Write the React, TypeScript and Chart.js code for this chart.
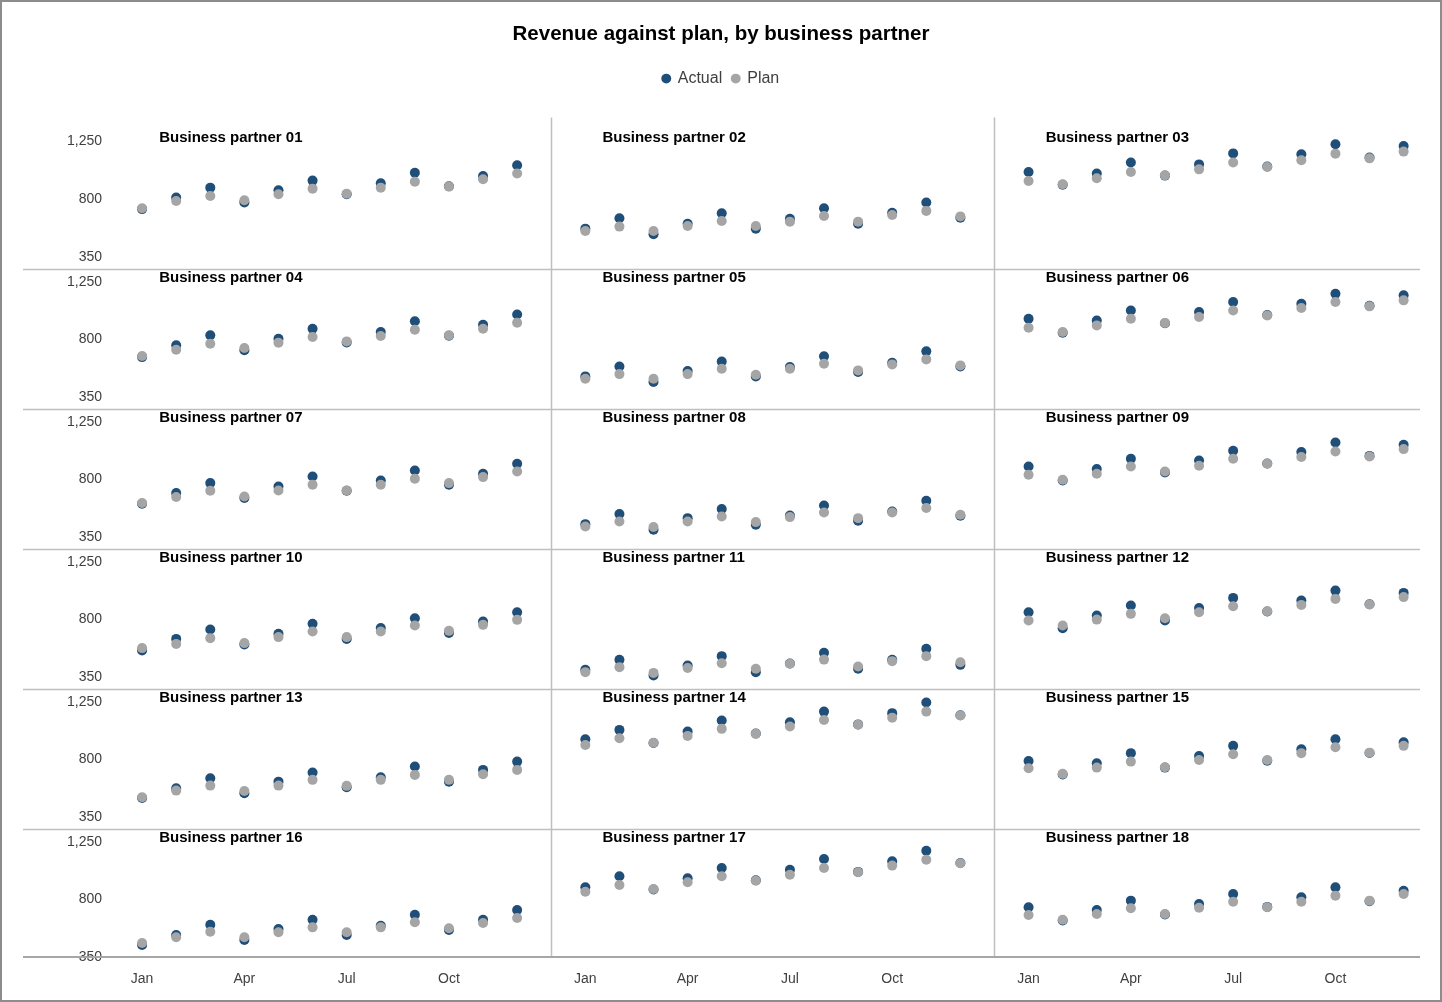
import { useEffect, useRef } from 'react';
import { Chart, registerables } from 'chart.js';

Chart.register(...registerables);

const FONT = '"Liberation Sans", Arial, sans-serif';

const months = ['Jan', 'Feb', 'Mar', 'Apr', 'May', 'Jun', 'Jul', 'Aug', 'Sep', 'Oct', 'Nov', 'Dec'];
const monthTicks = [0, 3, 6, 9];
const valueTicks = [350, 800, 1250];

const partners = [
  'Business partner 01', 'Business partner 02', 'Business partner 03',
  'Business partner 04', 'Business partner 05', 'Business partner 06',
  'Business partner 07', 'Business partner 08', 'Business partner 09',
  'Business partner 10', 'Business partner 11', 'Business partner 12',
  'Business partner 13', 'Business partner 14', 'Business partner 15',
  'Business partner 16', 'Business partner 17', 'Business partner 18',
];

// one row of 12 months per partner
const actual = [
  [722, 812, 890, 773, 869, 945, 838, 924, 1007, 901, 981, 1065],
  [569, 650, 525, 608, 689, 569, 647, 728, 608, 694, 773, 655],
  [1013, 912, 1000, 1086, 984, 1072, 1158, 1055, 1151, 1229, 1125, 1216],
  [660, 752, 830, 713, 804, 882, 775, 856, 940, 828, 913, 994],
  [509, 587, 465, 551, 626, 509, 582, 666, 543, 616, 705, 587],
  [960, 850, 947, 1025, 925, 1013, 1091, 990, 1078, 1156, 1062, 1143],
  [608, 692, 770, 653, 744, 822, 710, 791, 869, 757, 843, 921],
  [449, 528, 405, 496, 567, 444, 517, 595, 475, 548, 632, 514],
  [900, 790, 880, 960, 853, 947, 1023, 923, 1013, 1088, 983, 1070],
  [556, 647, 720, 603, 687, 765, 647, 733, 809, 694, 783, 856],
  [405, 483, 360, 438, 512, 387, 455, 538, 413, 483, 569, 444],
  [856, 731, 830, 908, 791, 888, 968, 862, 947, 1025, 918, 1007],
  [498, 575, 653, 535, 626, 697, 582, 661, 744, 626, 718, 783],
  [958, 1031, 928, 1018, 1104, 1003, 1091, 1174, 1074, 1162, 1245, 1146],
  [788, 682, 770, 849, 736, 827, 906, 790, 880, 958, 850, 935],
  [444, 522, 603, 483, 569, 642, 522, 595, 681, 561, 642, 718],
  [895, 982, 878, 966, 1047, 950, 1033, 1117, 1016, 1099, 1182, 1086],
  [739, 636, 718, 791, 682, 765, 843, 742, 817, 895, 786, 869],
];

const plan = [
  [728, 786, 825, 791, 838, 882, 843, 890, 937, 898, 955, 1000],
  [551, 585, 551, 590, 629, 590, 624, 668, 624, 676, 708, 665],
  [942, 916, 963, 1013, 986, 1033, 1086, 1052, 1104, 1156, 1119, 1172],
  [668, 718, 765, 731, 773, 817, 783, 825, 874, 830, 882, 929],
  [491, 527, 491, 527, 569, 522, 569, 608, 556, 603, 642, 595],
  [890, 856, 908, 960, 927, 974, 1025, 986, 1044, 1091, 1057, 1104],
  [614, 661, 710, 665, 712, 757, 712, 757, 804, 770, 817, 861],
  [431, 470, 426, 470, 509, 465, 504, 540, 496, 540, 575, 522],
  [835, 796, 843, 900, 861, 906, 960, 921, 974, 1018, 978, 1036],
  [575, 608, 653, 614, 661, 705, 661, 705, 752, 710, 757, 796],
  [387, 426, 381, 420, 457, 413, 452, 485, 431, 473, 512, 465],
  [791, 752, 798, 843, 809, 856, 903, 864, 913, 960, 916, 974],
  [504, 556, 595, 553, 595, 640, 593, 640, 679, 640, 684, 718],
  [913, 966, 931, 984, 1039, 1000, 1057, 1109, 1072, 1127, 1174, 1143],
  [731, 687, 736, 783, 739, 796, 841, 796, 849, 895, 853, 906],
  [460, 504, 548, 504, 543, 582, 543, 582, 622, 575, 616, 655],
  [861, 913, 882, 935, 982, 947, 994, 1047, 1013, 1065, 1111, 1083],
  [679, 642, 687, 731, 687, 736, 783, 739, 783, 830, 791, 843],
];

const ACTUAL_COLOR = '#1F4E79';
const PLAN_COLOR = '#A5A5A5';
const LINE_COLOR = '#BFBFBF';

const COLS = 3;
const ROWS = 6;
const STEP = 13; // 12 months + one empty slot between panels

// visible value range of each panel row (top row a bit taller, bottom row shorter)
const rowMin = [256, 256, 256, 256, 256, 350];
const rowMax = [1438, 1352, 1352, 1352, 1352, 1352];

function rowPoints(series: number[][], row: number) {
  const pts: { x: number; y: number }[] = [];
  for (let c = 0; c < COLS; c++) {
    const p = row * COLS + c;
    series[p].forEach((v, m) => pts.push({ x: c * STEP + m, y: v }));
  }
  return pts;
}

const legendGap = {
  id: 'legendGap',
  beforeInit(chart: any) {
    const fit = chart.legend.fit;
    chart.legend.fit = function () {
      fit.bind(chart.legend)();
      this.height += 21;
    };
  },
};

const panels = {
  id: 'panels',
  beforeDatasetsDraw(chart: any) {
    const { ctx, chartArea, scales } = chart;
    ctx.save();
    ctx.strokeStyle = LINE_COLOR;
    ctx.lineWidth = 1.5;
    // row separators
    for (let r = 1; r < ROWS; r++) {
      const y = Math.round(scales['y' + r].top) + 0.5;
      ctx.beginPath();
      ctx.moveTo(21, y);
      ctx.lineTo(chartArea.right, y);
      ctx.stroke();
    }
    // column separators
    for (let c = 1; c < COLS; c++) {
      const x = Math.round(scales.x.getPixelForValue(c * STEP - 1)) + 0.5;
      ctx.beginPath();
      ctx.moveTo(x, chartArea.top);
      ctx.lineTo(x, chartArea.bottom);
      ctx.stroke();
    }
    // bottom axis line
    ctx.strokeStyle = '#A6A6A6';
    ctx.lineWidth = 2;
    ctx.beginPath();
    ctx.moveTo(21, chartArea.bottom);
    ctx.lineTo(chartArea.right, chartArea.bottom);
    ctx.stroke();
    ctx.restore();
  },
  afterDatasetsDraw(chart: any) {
    const { ctx, scales } = chart;
    ctx.save();
    ctx.font = `bold 15px ${FONT}`;
    ctx.fillStyle = '#000000';
    ctx.textAlign = 'left';
    ctx.textBaseline = 'middle';
    partners.forEach((name, p) => {
      const r = Math.floor(p / COLS);
      const c = p % COLS;
      const x = scales.x.getPixelForValue(c * STEP + 0.5);
      const y = scales['y' + r].getPixelForValue(1281);
      ctx.fillText(name, x, y);
    });
    ctx.restore();
  },
};

export default function App() {
  const canvasRef = useRef<HTMLCanvasElement>(null);
  const chartRef = useRef<Chart | null>(null);

  useEffect(() => {
    if (!canvasRef.current) return;
    if (chartRef.current) chartRef.current.destroy();

    const datasets: any[] = [];
    for (let r = 0; r < ROWS; r++) {
      datasets.push({
        label: 'Actual',
        data: rowPoints(actual, r),
        yAxisID: 'y' + r,
        backgroundColor: ACTUAL_COLOR,
        borderColor: ACTUAL_COLOR,
        pointRadius: 5,
        pointBorderWidth: 0,
        order: 1,
      });
      datasets.push({
        label: 'Plan',
        data: rowPoints(plan, r),
        yAxisID: 'y' + r,
        backgroundColor: PLAN_COLOR,
        borderColor: PLAN_COLOR,
        pointRadius: 5,
        pointBorderWidth: 0,
        order: 0,
      });
    }

    const scales: any = {
      x: {
        type: 'linear',
        min: -1,
        max: 37.48,
        grid: { display: false, drawTicks: false },
        border: { display: false },
        afterBuildTicks: (s: any) => {
          const ticks: { value: number }[] = [];
          for (let c = 0; c < COLS; c++) monthTicks.forEach((m) => ticks.push({ value: c * STEP + m }));
          s.ticks = ticks;
        },
        afterFit: (s: any) => {
          s.height = 43;
        },
        ticks: {
          autoSkip: false,
          maxRotation: 0,
          padding: 14,
          color: '#404040',
          font: { size: 14, family: FONT },
          callback: (v: any) => months[Number(v) % STEP],
        },
      },
    };
    // last defined axis sits on top of the stack, so go bottom row first
    for (let r = ROWS - 1; r >= 0; r--) {
      scales['y' + r] = {
        type: 'linear',
        position: 'left',
        stack: 'rows',
        stackWeight: rowMax[r] - rowMin[r],
        min: rowMin[r],
        max: rowMax[r],
        grid: { display: false, drawTicks: false },
        border: { display: false },
        afterBuildTicks: (s: any) => {
          s.ticks = valueTicks.map((v) => ({ value: v }));
        },
        afterFit: (s: any) => {
          s.width = 86;
        },
        ticks: {
          autoSkip: false,
          padding: 6,
          color: '#404040',
          font: { size: 14, family: FONT },
          callback: (v: any) => Number(v).toLocaleString('en-US'),
        },
      };
    }

    chartRef.current = new Chart(canvasRef.current, {
      type: 'scatter',
      data: { datasets },
      options: {
        animation: false,
        responsive: true,
        maintainAspectRatio: false,
        layout: { padding: { top: 0, left: 20, right: 20, bottom: 0 } },
        plugins: {
          title: {
            display: true,
            text: 'Revenue against plan, by business partner',
            color: '#000000',
            font: { size: 20.5, weight: 'bold', family: FONT },
            padding: { top: 20, bottom: 14 },
          },
          legend: {
            position: 'top',
            labels: {
              usePointStyle: true,
              pointStyle: 'circle',
              boxWidth: 7,
              boxHeight: 7,
              padding: 10,
              color: '#404040',
              font: { size: 16, family: FONT },
              filter: (item: any) => item.datasetIndex < 2,
              sort: (a: any, b: any) => a.datasetIndex - b.datasetIndex,
            },
          },
          tooltip: { enabled: false },
        },
        scales,
      },
      plugins: [legendGap, panels],
    });

    return () => {
      if (chartRef.current) {
        chartRef.current.destroy();
        chartRef.current = null;
      }
    };
  }, []);

  return (
    <div
      style={{
        position: 'absolute',
        left: 0,
        top: 0,
        width: 1442,
        height: 1002,
        boxSizing: 'border-box',
        border: '2px solid #8C8C8C',
        background: '#FFFFFF',
      }}
    >
      <div style={{ position: 'relative', width: '100%', height: '100%' }}>
        <canvas ref={canvasRef} />
      </div>
    </div>
  );
}
